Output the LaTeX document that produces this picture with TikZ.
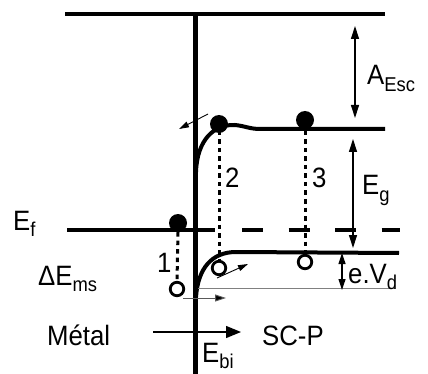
\documentclass[tikz,border=0pt]{standalone}
\usepackage{fontspec}
\setmainfont{Liberation Sans}
\usetikzlibrary{arrows.meta}
\newcommand\sbx[1]{\raisebox{-6.5pt}{\fontsize{20}{20}\selectfont #1}}
\newcommand\sq[1]{\scalebox{0.92}[1]{#1}}
\begin{document}
\begin{tikzpicture}[x=1pt,y=-1pt,
  band/.style={line width=4pt},
  dotl/.style={line width=3pt,dash pattern=on 4.5pt off 4pt},
  thinarr/.style={line width=1.2pt,{Triangle[length=13pt,width=8pt]}-{Triangle[length=13pt,width=8pt]}},
  smallarr/.style={line width=0.9pt,-{Triangle[length=10pt,width=6pt]}},
  elec/.style={circle,fill=black,inner sep=0pt,minimum size=18pt},
  hole/.style={circle,draw=black,fill=white,line width=2.8pt,inner sep=0pt,minimum size=13.5pt},
  lbl/.style={anchor=base west,inner sep=0pt,font=\fontsize{28}{30}\selectfont}]
\useasboundingbox (0,0) rectangle (428,374);
% named coordinates
\coordinate (vtop) at (195.5,14);
\coordinate (vbot) at (195.5,374);
\coordinate (vacL) at (65,14);
\coordinate (vacR) at (385,14);
% vacuum level and interface
\draw[band] (vacL) -- (vacR);
\draw[line width=4.8pt] (vtop) -- (vbot);
% Fermi level
\coordinate (efL) at (67,230);
\coordinate (efM) at (215,230);
\coordinate (efD) at (242,230);
\coordinate (efR) at (400,230);
\draw[band] (efL) -- (efM);
\draw[band,dash pattern=on 21pt off 25.5pt] (efD) -- (efR);
% conduction band
\coordinate (cbR) at (385,129);
\draw[band] (196,172) .. controls (197,140) and (214,124) .. (235,125)
  .. controls (245,126) and (250,129) .. (260,129) -- (cbR);
% valence band
\coordinate (vbR) at (399,253);
\draw[band] (196,297) .. controls (198,268) and (212,252) .. (236,252) -- (vbR);
% grey reference line
\coordinate (gL) at (198,288);
\coordinate (gR) at (395,288);
\draw[gray,line width=1pt] (gL) -- (gR);
% electrons
\node[elec] (e1) at (178,223) {};
\node[elec] (e2) at (219,124) {};
\node[elec] (e3) at (305,120) {};
% holes
\node[hole] (h1) at (177,289) {};
\node[hole] (h2) at (219,268) {};
\node[hole] (h3) at (305,262) {};
% dotted transitions
\draw[dotl] (e1.south) -- (h1.north);
\draw[dotl] (219,131) -- (h2.north);
\draw[dotl] (305,131) -- (h3.north);
% double arrows
\coordinate (a1) at (355,26); \coordinate (a2) at (355,118);
\draw[thinarr] (a1) -- (a2);
\coordinate (g1) at (353,139); \coordinate (g2) at (353,248);
\draw[thinarr] (g1) -- (g2);
\coordinate (d1) at (342,253); \coordinate (d2) at (342,290);
\draw[line width=1.2pt,{Triangle[length=11pt,width=7pt]}-{Triangle[length=11pt,width=7pt]}] (d1) -- (d2);
% small arrows
\coordinate (s1) at (208,114); \coordinate (s2) at (179,129);
\draw[smallarr] (s1) -- (s2);
\coordinate (t1) at (217,278); \coordinate (t2) at (248,264);
\draw[smallarr] (t1) -- (t2);
\coordinate (u1) at (183,298); \coordinate (u2) at (226,298);
\draw[gray!70!black,line width=1pt,-{Triangle[length=11pt,width=7pt,fill=black]}] (u1) -- (u2);
% field arrow
\coordinate (f1) at (153,332); \coordinate (f2) at (241,332);
\draw[line width=1.3pt,-{Triangle[length=15pt,width=12pt]}] (f1) -- (f2);
% labels
\node[lbl] (lEf) at (13,230) {\sq{E\sbx{f}}};
\node[lbl] (lDE) at (38,285) {\sq{ΔE\sbx{ms}}};
\node[lbl] (l1) at (157,272) {\sq{1}};
\node[lbl] (l2) at (225,188) {\sq{2}};
\node[lbl] (l3) at (312,188) {\sq{3}};
\node[lbl] (lEg) at (362,195) {\sq{E\sbx{g}}};
\node[lbl] (lA) at (367,85) {\sq{A\sbx{Esc}}};
\node[lbl] (lVd) at (348,283) {\sq{e.V\sbx{d}}};
\node[lbl] (lM) at (47,345) {\sq{Métal}};
\node[lbl] (lSC) at (262,345) {\sq{SC-P}};
\node[lbl] (lEbi) at (202,362) {\sq{E\sbx{bi}}};
\end{tikzpicture}
\end{document}
